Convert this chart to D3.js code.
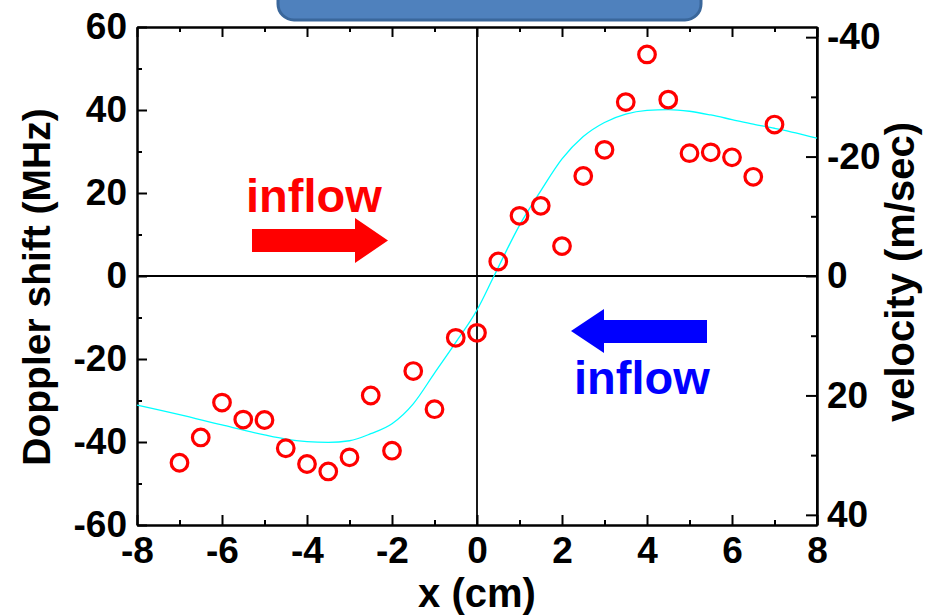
<!DOCTYPE html>
<html>
<head>
<meta charset="utf-8">
<script src="https://cdn.jsdelivr.net/npm/d3@7"></script>
<style>
  body { margin: 0; background: #fff; }
  svg text { font-family: "Liberation Sans", Arial, sans-serif; font-weight: bold; }
</style>
</head>
<body>
<div id="chart"></div>
<script>
// measured points (x in cm, Doppler shift in MHz)
var posX = [-7, -6.5, -6, -5.5, -5, -4.5, -4, -3.5, -3, -2.5, -2, -1.5, -1, -0.5, 0,
            0.5, 1, 1.5, 2, 2.5, 3, 3.5, 4, 4.5, 5, 5.5, 6, 6.5, 7];
var shift = [-45, -38.9, -30.5, -34.6, -34.7, -41.5, -45.3, -47.1, -43.7, -28.8, -42.1, -22.9, -32.1, -14.9, -13.7,
             3.5, 14.5, 16.9, 7.2, 24.1, 30.4, 41.9, 53.4, 42.5, 29.6, 29.8, 28.6, 23.9, 36.5];

// fitted curve
var fitX = [-8, -7, -6, -5, -4.5, -4, -3.5, -3, -2.5, -2, -1.5, -1, -0.5, 0, 0.4,
            1, 1.5, 2, 2.5, 3, 3.5, 4, 4.5, 5, 5.5, 6, 6.5, 7, 7.5, 8];
var fitY = [-31.1, -33.4, -35.9, -38.3, -39.3, -39.9, -40.1, -39.7, -38.0, -35.6, -30.8, -23.4, -16.0, -8.2, 0,
            12.2, 20.5, 28.2, 33.6, 37.0, 39.0, 39.9, 40.1, 39.7, 38.8, 37.7, 36.6, 35.6, 34.5, 33.2];

var xTicks = [-8, -6, -4, -2, 0, 2, 4, 6, 8];
var xMinor = [-7, -5, -3, -1, 1, 3, 5, 7];
var yTicks = [-60, -40, -20, 0, 20, 40, 60];
var yMinor = [-50, -30, -10, 10, 30, 50];
var velTicks = [-40, -20, 0, 20, 40];
var velMinor = [-30, -10, 10, 30];

var W = 926, H = 615;
var pL = 137, pR = 817, pT = 27, pB = 525;

var svg = d3.select("#chart").append("svg").attr("width", W).attr("height", H);

var x = d3.scaleLinear().domain([-8, 8]).range([pL, pR]);
var y = d3.scaleLinear().domain([-60, 60]).range([pB, pT]);
var yVel = d3.scaleLinear().domain([-41.7, 41.7]).range([pT, pB]);

var fmt = function(d){ return String(d); };

// blue title box peeking in at the top
svg.append("rect")
    .attr("x", 278).attr("y", -40).attr("width", 423).attr("height", 60)
    .attr("rx", 16).attr("ry", 16)
    .style("fill", "#4f81bd").style("stroke", "#3a679b").style("stroke-width", 3);

// zero lines
svg.append("line").attr("x1", x(0)).attr("x2", x(0)).attr("y1", pT).attr("y2", pB)
    .style("stroke", "#000").style("stroke-width", 1.8);
svg.append("line").attr("x1", pL).attr("x2", pR).attr("y1", y(0)).attr("y2", y(0))
    .style("stroke", "#000").style("stroke-width", 1.8);

function styleAxis(g, size) {
    g.selectAll("path.domain").style("stroke", "#000").style("stroke-width", 2);
    g.selectAll(".tick line").style("stroke", "#000").style("stroke-width", 2);
    g.selectAll("text").style("font-size", size + "px").style("fill", "#000");
}

// bottom
var gb = svg.append("g").attr("transform", "translate(0," + pB + ")")
    .call(d3.axisBottom(x).tickValues(xTicks).tickFormat(fmt).tickSizeInner(-10).tickSizeOuter(0).tickPadding(12));
styleAxis(gb, 37);
var gbm = svg.append("g").attr("transform", "translate(0," + pB + ")")
    .call(d3.axisBottom(x).tickValues(xMinor).tickFormat("").tickSizeInner(-5).tickSizeOuter(0));
styleAxis(gbm, 37);

// top
var gt = svg.append("g").attr("transform", "translate(0," + pT + ")")
    .call(d3.axisTop(x).tickValues(xTicks).tickFormat("").tickSizeInner(-10).tickSizeOuter(0));
styleAxis(gt, 37);
var gtm = svg.append("g").attr("transform", "translate(0," + pT + ")")
    .call(d3.axisTop(x).tickValues(xMinor).tickFormat("").tickSizeInner(-5).tickSizeOuter(0));
styleAxis(gtm, 37);

// left
var gl = svg.append("g").attr("transform", "translate(" + pL + ",0)")
    .call(d3.axisLeft(y).tickValues(yTicks).tickFormat(fmt).tickSizeInner(-10).tickSizeOuter(0).tickPadding(10));
styleAxis(gl, 37);
var glm = svg.append("g").attr("transform", "translate(" + pL + ",0)")
    .call(d3.axisLeft(y).tickValues(yMinor).tickFormat("").tickSizeInner(-5).tickSizeOuter(0));
styleAxis(glm, 37);

// right (velocity)
var gr = svg.append("g").attr("transform", "translate(" + pR + ",0)")
    .call(d3.axisRight(yVel).tickValues(velTicks).tickFormat(fmt).tickSizeInner(-11).tickSizeOuter(0).tickPadding(10));
styleAxis(gr, 37);
var grm = svg.append("g").attr("transform", "translate(" + pR + ",0)")
    .call(d3.axisRight(yVel).tickValues(velMinor).tickFormat("").tickSizeInner(-6).tickSizeOuter(0));
styleAxis(grm, 37);
svg.append("line").attr("x1", pR).attr("x2", pR).attr("y1", pT).attr("y2", pB)
    .style("stroke", "#000").style("stroke-width", 2);

// axis titles
svg.append("text").attr("x", x(0)).attr("y", 607).attr("text-anchor", "middle")
    .style("font-size", "40px").text("x (cm)");
svg.append("text").attr("transform", "translate(50,287) rotate(-90)")
    .attr("text-anchor", "middle").style("font-size", "39px").text("Doppler shift (MHz)");
svg.append("text").attr("transform", "translate(914,272) rotate(-90)")
    .attr("text-anchor", "middle").style("font-size", "40px").text("velocity (m/sec)");

// fit curve
var fit = fitX.map(function(d, i){ return [d, fitY[i]]; });
svg.append("path").datum(fit)
    .attr("d", d3.line().x(function(d){ return x(d[0]); }).y(function(d){ return y(d[1]); }).curve(d3.curveMonotoneX))
    .style("fill", "none").style("stroke", "#00ffff").style("stroke-width", 1.3);

// data points
svg.selectAll(".pt").data(posX).enter().append("circle")
    .attr("class", "pt")
    .attr("cx", function(d){ return x(d); })
    .attr("cy", function(d, i){ return y(shift[i]); })
    .attr("r", 8.3)
    .style("fill", "none").style("stroke", "#ff0000").style("stroke-width", 3.2);

// inflow annotations
svg.append("text").attr("x", 246).attr("y", 212).style("font-size", "47px").style("fill", "#ff0000").text("inflow");
svg.append("path")
    .attr("d", "M252,229 L355,229 L355,218 L388,240.5 L355,263 L355,252 L252,252 Z")
    .style("fill", "#ff0000");

svg.append("path")
    .attr("d", "M707,320 L604,320 L604,309 L571,331 L604,353 L604,343 L707,343 Z")
    .style("fill", "#0000ff");
svg.append("text").attr("x", 574).attr("y", 394).style("font-size", "47px").style("fill", "#0000ff").text("inflow");
</script>
</body>
</html>
